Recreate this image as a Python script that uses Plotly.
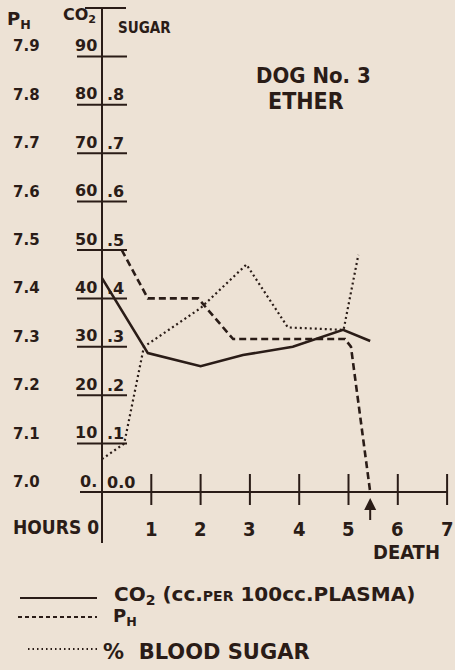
import plotly.graph_objects as go

# ---------------- data ----------------
hours_co2 = [0.0, 0.93, 2.0, 2.86, 3.87, 4.89, 5.44]
co2_vals = [44.2, 28.7, 26.0, 28.3, 30.0, 33.5, 31.2]

hours_ph = [0.40, 0.93, 1.95, 2.66, 4.93, 5.05, 5.44]
ph_vals = [7.50, 7.40, 7.40, 7.316, 7.316, 7.30, 7.00]

hours_sugar = [0.0, 0.45, 0.85, 2.0, 2.93, 3.77, 4.90, 5.20]
sugar_vals = [0.068, 0.10, 0.30, 0.38, 0.47, 0.34, 0.335, 0.49]

hour_ticks = [1, 2, 3, 4, 5, 6, 7]
hour_tick_labels = ["1", "2", "3", "4", "5", "6", "7"]

co2_levels = [0, 10, 20, 30, 40, 50, 60, 70, 80, 90]
co2_labels = ["0.", "10", "20", "30", "40", "50", "60", "70", "80", "90"]
ph_labels = ["7.0", "7.1", "7.2", "7.3", "7.4", "7.5", "7.6", "7.7", "7.8", "7.9"]
sugar_labels = ["0.0", ".1", ".2", ".3", ".4", ".5", ".6", ".7", ".8", ""]

death_hour = hours_ph[-1]

# ---------------- geometry / style ----------------
W, H = 455, 670
X0_PX, PX_PER_HOUR = 102.0, 49.3
Y0_PX, PX_PER_UNIT = 492.0, 4.84   # CO2 units (0..100)

def px2x(px):
    return (px - X0_PX) / PX_PER_HOUR

def px2y(py):
    return (Y0_PX - py) / PX_PER_UNIT

x_range = [px2x(0), px2x(W)]
y_range = [px2y(H), px2y(0)]
ph_range = [7.0 + v / 100.0 for v in y_range]
sugar_range = [v / 100.0 for v in y_range]

BG = "#EDE2D5"
INK = "#2A1C17"
FONT = "DejaVu Sans, Verdana, sans-serif"
FONT_C = "DejaVu Sans Condensed, Liberation Sans Narrow, DejaVu Sans, sans-serif"

fig = go.Figure()

fig.add_trace(go.Scatter(x=hours_co2, y=co2_vals, mode="lines", yaxis="y",
                         line=dict(color=INK, width=2.6), name="CO2"))
fig.add_trace(go.Scatter(x=hours_ph, y=ph_vals, mode="lines", yaxis="y2",
                         line=dict(color=INK, width=2.6, dash="7px,4px"), name="PH"))
fig.add_trace(go.Scatter(x=hours_sugar, y=sugar_vals, mode="lines", yaxis="y3",
                         line=dict(color=INK, width=2.2, dash="2px,3px"), name="% blood sugar"))

shapes = []
ann = []

def line(x0, y0, x1, y1, width=2.0, dash="solid"):
    shapes.append(dict(type="line", xref="x", yref="y", x0=x0, y0=y0, x1=x1, y1=y1,
                       line=dict(color=INK, width=width, dash=dash)))

def text(x, y, s, size, xanchor="center", yanchor="middle", xshift=0, yshift=0,
         bold=True, family=FONT):
    ann.append(dict(x=x, y=y, xref="x", yref="y", text=s, showarrow=False,
                    xanchor=xanchor, yanchor=yanchor, xshift=xshift, yshift=yshift,
                    font=dict(family=family, size=size, color=INK,
                              weight="bold" if bold else "normal")))

# vertical axis
line(0, px2y(543), 0, 100, width=2.0)
# top bar
line(px2x(85), 100, px2x(126), 100, width=2.0)
# horizontal underlines at each level
for lv in co2_levels[1:]:
    line(px2x(77), lv, px2x(127), lv, width=2.0)
# hours axis
line(px2x(80), 0, hour_ticks[-1], 0, width=2.0)
for h in hour_ticks:
    line(h, px2y(Y0_PX + 13), h, px2y(Y0_PX - 18), width=2.0)

# level labels
for lv, c, p, s in zip(co2_levels, co2_labels, ph_labels, sugar_labels):
    text(px2x(26), lv, p, 15, yshift=10)
    text(0, lv, c, 16, xanchor="right", xshift=-3, yshift=11)
    if s:
        text(0, lv, s, 16, xanchor="left", xshift=3, yshift=10)

# column headers
text(px2x(19), px2y(20), "P<sub>H</sub>", 18)
text(px2x(79), px2y(15), "CO<sub>2</sub>", 16)
text(px2x(144), px2y(28), "SUGAR", 15, family=FONT_C)

# title
text(px2x(313), px2y(75), "DOG No. 3", 22, family=FONT_C)
text(px2x(306), px2y(101), "ETHER", 23, family=FONT_C)

# hour tick labels
text(px2x(56), px2y(527), "HOURS 0", 19, family=FONT_C)
for h, lab in zip(hour_ticks, hour_tick_labels):
    text(h, px2y(529), lab, 20, family=FONT_C)
text(px2x(406), px2y(552), "DEATH", 20, family=FONT_C)

# death arrow
ann.append(dict(x=death_hour, y=px2y(498), xref="x", yref="y", ax=0, ay=32,
                axref="pixel", ayref="pixel", text=" ", showarrow=True,
                arrowhead=2, arrowsize=1.2, arrowwidth=2, arrowcolor=INK))

# key
key_y = [598, 617, 649]
line(px2x(20), px2y(key_y[0]), px2x(97), px2y(key_y[0]), width=2.2)
line(px2x(18), px2y(key_y[1]), px2x(97), px2y(key_y[1]), width=1.8, dash="4px,3px")
line(px2x(28), px2y(key_y[2]), px2x(97), px2y(key_y[2]), width=2.0, dash="1.5px,3px")
text(px2x(112), px2y(595),
     "CO<sub>2</sub> (cc.<span style='font-size:14px'>PER</span> 100cc.PLASMA)",
     20, xanchor="left")
text(px2x(111), px2y(617), "P<sub>H</sub>", 18, xanchor="left")
text(px2x(101), px2y(652), "%  BLOOD SUGAR", 21, xanchor="left")

fig.update_layout(
    width=W, height=H,
    margin=dict(l=0, r=0, t=0, b=0),
    paper_bgcolor=BG, plot_bgcolor=BG,
    showlegend=False,
    xaxis=dict(range=x_range, visible=False, fixedrange=True),
    yaxis=dict(range=y_range, visible=False, fixedrange=True),
    yaxis2=dict(range=ph_range, overlaying="y", visible=False, fixedrange=True),
    yaxis3=dict(range=sugar_range, overlaying="y", visible=False, fixedrange=True),
    shapes=shapes,
    annotations=ann,
)

fig.write_html(
    "out.html",
    config={"displayModeBar": False},
    post_script="document.body.style.margin='0';document.body.style.background='" + BG + "';",
)
